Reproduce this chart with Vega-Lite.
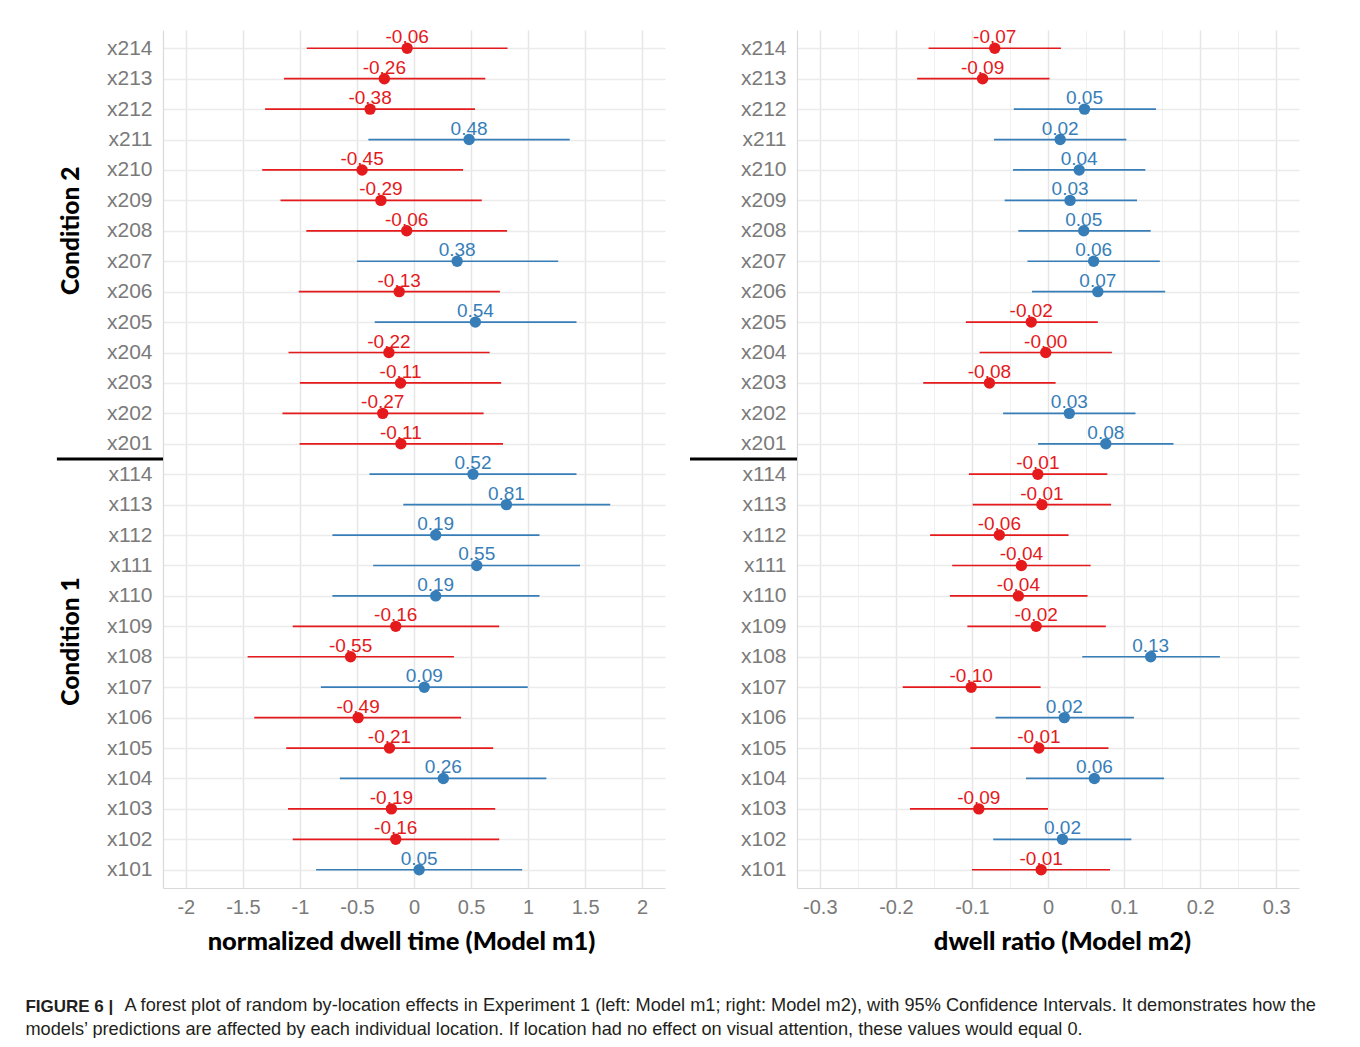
{
  "$schema": "https://vega.github.io/schema/vega-lite/v6.json",
  "padding": {"left": 25, "top": 28, "right": 0, "bottom": 0},
  "background": "white",
  "config": {
    "view": {"stroke": null},
    "font": "Liberation Sans",
    "concat": {"spacing": 23}
  },
  "datasets": {
    "m1": [
      {"loc": "x214", "est": -0.06, "lo": -0.94, "hi": 0.82, "label": "-0.06", "dir": "neg"},
      {"loc": "x213", "est": -0.26, "lo": -1.14, "hi": 0.625, "label": "-0.26", "dir": "neg"},
      {"loc": "x212", "est": -0.385, "lo": -1.305, "hi": 0.535, "label": "-0.38", "dir": "neg"},
      {"loc": "x211", "est": 0.483, "lo": -0.40, "hi": 1.365, "label": "0.48", "dir": "pos"},
      {"loc": "x210", "est": -0.455, "lo": -1.33, "hi": 0.43, "label": "-0.45", "dir": "neg"},
      {"loc": "x209", "est": -0.29, "lo": -1.17, "hi": 0.594, "label": "-0.29", "dir": "neg"},
      {"loc": "x208", "est": -0.064, "lo": -0.944, "hi": 0.816, "label": "-0.06", "dir": "neg"},
      {"loc": "x207", "est": 0.378, "lo": -0.50, "hi": 1.264, "label": "0.38", "dir": "pos"},
      {"loc": "x206", "est": -0.13, "lo": -1.01, "hi": 0.753, "label": "-0.13", "dir": "neg"},
      {"loc": "x205", "est": 0.538, "lo": -0.344, "hi": 1.424, "label": "0.54", "dir": "pos"},
      {"loc": "x204", "est": -0.22, "lo": -1.10, "hi": 0.663, "label": "-0.22", "dir": "neg"},
      {"loc": "x203", "est": -0.118, "lo": -1.0, "hi": 0.764, "label": "-0.11", "dir": "neg"},
      {"loc": "x202", "est": -0.274, "lo": -1.153, "hi": 0.61, "label": "-0.27", "dir": "neg"},
      {"loc": "x201", "est": -0.115, "lo": -1.003, "hi": 0.78, "label": "-0.11", "dir": "neg"},
      {"loc": "x114", "est": 0.517, "lo": -0.39, "hi": 1.424, "label": "0.52", "dir": "pos"},
      {"loc": "x113", "est": 0.81, "lo": -0.094, "hi": 1.72, "label": "0.81", "dir": "pos"},
      {"loc": "x112", "est": 0.19, "lo": -0.715, "hi": 1.10, "label": "0.19", "dir": "pos"},
      {"loc": "x111", "est": 0.55, "lo": -0.358, "hi": 1.455, "label": "0.55", "dir": "pos"},
      {"loc": "x110", "est": 0.19, "lo": -0.715, "hi": 1.10, "label": "0.19", "dir": "pos"},
      {"loc": "x109", "est": -0.16, "lo": -1.063, "hi": 0.747, "label": "-0.16", "dir": "neg"},
      {"loc": "x108", "est": -0.556, "lo": -1.458, "hi": 0.35, "label": "-0.55", "dir": "neg"},
      {"loc": "x107", "est": 0.09, "lo": -0.816, "hi": 0.997, "label": "0.09", "dir": "pos"},
      {"loc": "x106", "est": -0.49, "lo": -1.40, "hi": 0.413, "label": "-0.49", "dir": "neg"},
      {"loc": "x105", "est": -0.215, "lo": -1.12, "hi": 0.694, "label": "-0.21", "dir": "neg"},
      {"loc": "x104", "est": 0.257, "lo": -0.65, "hi": 1.16, "label": "0.26", "dir": "pos"},
      {"loc": "x103", "est": -0.198, "lo": -1.104, "hi": 0.712, "label": "-0.19", "dir": "neg"},
      {"loc": "x102", "est": -0.16, "lo": -1.063, "hi": 0.747, "label": "-0.16", "dir": "neg"},
      {"loc": "x101", "est": 0.045, "lo": -0.858, "hi": 0.948, "label": "0.05", "dir": "pos"}
    ],
    "m2": [
      {"loc": "x214", "est": -0.070, "lo": -0.157, "hi": 0.017, "label": "-0.07", "dir": "neg"},
      {"loc": "x213", "est": -0.086, "lo": -0.172, "hi": 0.002, "label": "-0.09", "dir": "neg"},
      {"loc": "x212", "est": 0.048, "lo": -0.045, "hi": 0.142, "label": "0.05", "dir": "pos"},
      {"loc": "x211", "est": 0.016, "lo": -0.071, "hi": 0.103, "label": "0.02", "dir": "pos"},
      {"loc": "x210", "est": 0.041, "lo": -0.046, "hi": 0.128, "label": "0.04", "dir": "pos"},
      {"loc": "x209", "est": 0.029, "lo": -0.057, "hi": 0.117, "label": "0.03", "dir": "pos"},
      {"loc": "x208", "est": 0.047, "lo": -0.039, "hi": 0.135, "label": "0.05", "dir": "pos"},
      {"loc": "x207", "est": 0.060, "lo": -0.027, "hi": 0.147, "label": "0.06", "dir": "pos"},
      {"loc": "x206", "est": 0.0655, "lo": -0.021, "hi": 0.154, "label": "0.07", "dir": "pos"},
      {"loc": "x205", "est": -0.022, "lo": -0.108, "hi": 0.0655, "label": "-0.02", "dir": "neg"},
      {"loc": "x204", "est": -0.003, "lo": -0.09, "hi": 0.084, "label": "-0.00", "dir": "neg"},
      {"loc": "x203", "est": -0.077, "lo": -0.164, "hi": 0.010, "label": "-0.08", "dir": "neg"},
      {"loc": "x202", "est": 0.028, "lo": -0.059, "hi": 0.115, "label": "0.03", "dir": "pos"},
      {"loc": "x201", "est": 0.076, "lo": -0.013, "hi": 0.165, "label": "0.08", "dir": "pos"},
      {"loc": "x114", "est": -0.0134, "lo": -0.104, "hi": 0.078, "label": "-0.01", "dir": "neg"},
      {"loc": "x113", "est": -0.008, "lo": -0.099, "hi": 0.083, "label": "-0.01", "dir": "neg"},
      {"loc": "x112", "est": -0.064, "lo": -0.155, "hi": 0.027, "label": "-0.06", "dir": "neg"},
      {"loc": "x111", "est": -0.035, "lo": -0.126, "hi": 0.056, "label": "-0.04", "dir": "neg"},
      {"loc": "x110", "est": -0.039, "lo": -0.129, "hi": 0.052, "label": "-0.04", "dir": "neg"},
      {"loc": "x109", "est": -0.0156, "lo": -0.106, "hi": 0.076, "label": "-0.02", "dir": "neg"},
      {"loc": "x108", "est": 0.135, "lo": 0.045, "hi": 0.226, "label": "0.13", "dir": "pos"},
      {"loc": "x107", "est": -0.101, "lo": -0.191, "hi": -0.0097, "label": "-0.10", "dir": "neg"},
      {"loc": "x106", "est": 0.0215, "lo": -0.069, "hi": 0.113, "label": "0.02", "dir": "pos"},
      {"loc": "x105", "est": -0.012, "lo": -0.102, "hi": 0.0795, "label": "-0.01", "dir": "neg"},
      {"loc": "x104", "est": 0.061, "lo": -0.029, "hi": 0.1525, "label": "0.06", "dir": "pos"},
      {"loc": "x103", "est": -0.091, "lo": -0.1815, "hi": 0.0, "label": "-0.09", "dir": "neg"},
      {"loc": "x102", "est": 0.019, "lo": -0.072, "hi": 0.1096, "label": "0.02", "dir": "pos"},
      {"loc": "x101", "est": -0.009, "lo": -0.1, "hi": 0.0816, "label": "-0.01", "dir": "neg"}
    ]
  },
  "title": {
    "text": "models’ predictions are affected by each individual location. If location had no effect on visual attention, these values would equal 0.",
    "orient": "bottom", "anchor": "start", "font": "Liberation Sans", "fontSize": 18.2, "fontWeight": "normal", "color": "#231f20", "offset": 6
  },
  "vconcat": [
    {
      "title": {
        "text": "A forest plot of random by-location effects in Experiment 1 (left: Model m1; right: Model m2), with 95% Confidence Intervals. It demonstrates how the",
        "orient": "bottom", "anchor": "start", "font": "Liberation Sans", "fontSize": 18.2, "fontWeight": "normal", "color": "#231f20", "offset": 0, "dx": 99, "dy": -18
      },
      "vconcat": [
        {
          "title": {
            "text": "FIGURE 6 |",
            "orient": "bottom", "anchor": "start", "font": "Liberation Sans", "fontSize": 17, "fontWeight": "bold", "color": "#231f20", "offset": 44, "dx": -30
          },
          "hconcat": [
            {
              "width": 502, "height": 858,
              "data": {"name": "m1"},
              "encoding": {
                "y": {"field": "loc", "type": "ordinal",
                  "scale": {"type": "point", "padding": 0.6, "domain": ["x214","x213","x212","x211","x210","x209","x208","x207","x206","x205","x204","x203","x202","x201","x114","x113","x112","x111","x110","x109","x108","x107","x106","x105","x104","x103","x102","x101"]},
                  "axis": {"title": null, "labelFont": "Liberation Sans", "labelFontSize": 21, "labelColor": "#7a7a7a", "labelPadding": 11, "ticks": false, "grid": true, "gridColor": "#ebebeb", "gridWidth": 1.3, "domainColor": "#d9d9d9", "domainWidth": 1.2}}
              },
              "layer": [
                {
                  "mark": {"type": "rule", "strokeWidth": 1.7},
                  "encoding": {
                    "x": {"field": "lo", "type": "quantitative",
                      "scale": {"domain": [-2.2, 2.2], "nice": false, "zero": false},
                      "axis": {"title": "normalized dwell time (Model m1)",
                        "values": [-2, -1.75, -1.5, -1.25, -1, -0.75, -0.5, -0.25, 0, 0.25, 0.5, 0.75, 1, 1.25, 1.5, 1.75, 2],
                        "labelExpr": "abs(datum.value*2 - round(datum.value*2)) < 0.001 ? '' + datum.value : ''",
                        "grid": true,
                        "gridColor": {"condition": {"test": "abs(datum.value*2 - round(datum.value*2)) < 0.001", "value": "#e6e6e6"}, "value": "#f1f1f1"},
                        "gridWidth": {"condition": {"test": "abs(datum.value*2 - round(datum.value*2)) < 0.001", "value": 1.5}, "value": 1},
                        "ticks": false, "labelFont": "Liberation Sans", "labelFontSize": 20, "labelColor": "#7a7a7a", "labelPadding": 9,
                        "domainColor": "#d9d9d9", "domainWidth": 1.2,
                        "titleFont": "Lato", "titleFontWeight": 900, "titleFontSize": 25.5, "titleColor": "black", "titlePadding": 12, "titleX": 238}},
                    "x2": {"field": "hi"},
                    "color": {"field": "dir", "type": "nominal", "scale": {"domain": ["neg", "pos"], "range": ["#E41A1C", "#377EB8"]}, "legend": null}
                  }
                },
                {
                  "mark": {"type": "circle", "size": 130, "opacity": 1},
                  "encoding": {
                    "x": {"field": "est", "type": "quantitative"},
                    "color": {"field": "dir", "type": "nominal", "legend": null}
                  }
                },
                {
                  "mark": {"type": "text", "fontSize": 19, "font": "Liberation Sans", "baseline": "alphabetic", "dy": -5},
                  "encoding": {
                    "x": {"field": "est", "type": "quantitative"},
                    "text": {"field": "label"},
                    "color": {"field": "dir", "type": "nominal", "legend": null}
                  }
                },
                {
                  "data": {"values": [{}]},
                  "mark": {"type": "rule", "strokeWidth": 3, "color": "black", "yOffset": 15.2},
                  "encoding": {"x": {"datum": -3.13}, "x2": {"datum": -2.2}, "y": {"datum": "x201"}}
                },
                {
                  "data": {"values": [{}]},
                  "mark": {"type": "text", "angle": 270, "font": "Lato", "fontWeight": 900, "fontSize": 24.5, "color": "black", "align": "center", "baseline": "middle"},
                  "encoding": {"x": {"datum": -3.0}, "y": {"datum": "x208"}, "text": {"value": "Condition 2"}}
                },
                {
                  "data": {"values": [{}]},
                  "mark": {"type": "text", "angle": 270, "font": "Lato", "fontWeight": 900, "fontSize": 24.5, "color": "black", "align": "center", "baseline": "middle", "yOffset": 15.2},
                  "encoding": {"x": {"datum": -3.0}, "y": {"datum": "x109"}, "text": {"value": "Condition 1"}}
                }
              ]
            },
            {
              "width": 502, "height": 858,
              "data": {"name": "m2"},
              "encoding": {
                "y": {"field": "loc", "type": "ordinal",
                  "scale": {"type": "point", "padding": 0.6, "domain": ["x214","x213","x212","x211","x210","x209","x208","x207","x206","x205","x204","x203","x202","x201","x114","x113","x112","x111","x110","x109","x108","x107","x106","x105","x104","x103","x102","x101"]},
                  "axis": {"title": null, "labelFont": "Liberation Sans", "labelFontSize": 21, "labelColor": "#7a7a7a", "labelPadding": 11, "ticks": false, "grid": true, "gridColor": "#ebebeb", "gridWidth": 1.3, "domainColor": "#d9d9d9", "domainWidth": 1.2}}
              },
              "layer": [
                {
                  "mark": {"type": "rule", "strokeWidth": 1.7},
                  "encoding": {
                    "x": {"field": "lo", "type": "quantitative",
                      "scale": {"domain": [-0.33, 0.33], "nice": false, "zero": false},
                      "axis": {"title": "dwell ratio (Model m2)",
                        "values": [-0.3, -0.25, -0.2, -0.15, -0.1, -0.05, 0, 0.05, 0.1, 0.15, 0.2, 0.25, 0.3],
                        "labelExpr": "abs(datum.value*10 - round(datum.value*10)) < 0.001 ? '' + datum.value : ''",
                        "grid": true,
                        "gridColor": {"condition": {"test": "abs(datum.value*10 - round(datum.value*10)) < 0.001", "value": "#e6e6e6"}, "value": "#f1f1f1"},
                        "gridWidth": {"condition": {"test": "abs(datum.value*10 - round(datum.value*10)) < 0.001", "value": 1.5}, "value": 1},
                        "ticks": false, "labelFont": "Liberation Sans", "labelFontSize": 20, "labelColor": "#7a7a7a", "labelPadding": 9,
                        "domainColor": "#d9d9d9", "domainWidth": 1.2,
                        "titleFont": "Lato", "titleFontWeight": 900, "titleFontSize": 25.5, "titleColor": "black", "titlePadding": 12, "titleX": 265}},
                    "x2": {"field": "hi"},
                    "color": {"field": "dir", "type": "nominal", "scale": {"domain": ["neg", "pos"], "range": ["#E41A1C", "#377EB8"]}, "legend": null}
                  }
                },
                {
                  "mark": {"type": "circle", "size": 130, "opacity": 1},
                  "encoding": {
                    "x": {"field": "est", "type": "quantitative"},
                    "color": {"field": "dir", "type": "nominal", "legend": null}
                  }
                },
                {
                  "mark": {"type": "text", "fontSize": 19, "font": "Liberation Sans", "baseline": "alphabetic", "dy": -5},
                  "encoding": {
                    "x": {"field": "est", "type": "quantitative"},
                    "text": {"field": "label"},
                    "color": {"field": "dir", "type": "nominal", "legend": null}
                  }
                },
                {
                  "data": {"values": [{}]},
                  "mark": {"type": "rule", "strokeWidth": 3, "color": "black", "yOffset": 15.2},
                  "encoding": {"x": {"datum": -0.4707}, "x2": {"datum": -0.33}, "y": {"datum": "x201"}}
                }
              ]
            }
          ]
        }
      ]
    }
  ]
}
